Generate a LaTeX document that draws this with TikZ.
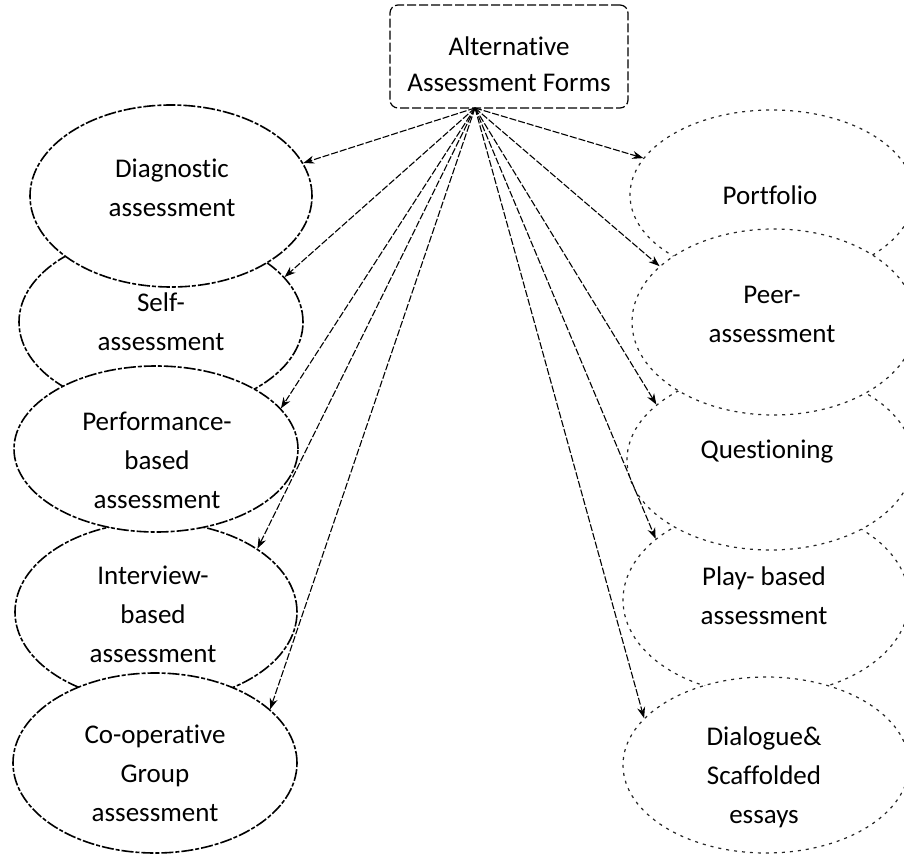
\documentclass[tikz,border=0pt]{standalone}
\usepackage{fontspec}
\setmainfont{Carlito}[Ligatures=NoCommon]
\usetikzlibrary{shapes.geometric,arrows.meta}
\begin{document}
\begin{tikzpicture}[x=1pt,y=-1pt,
  lbl/.style={align=center,font=\fontsize{27}{39}\selectfont,inner sep=0pt},
  lell/.style={ellipse,draw=black,fill=white,line width=1.6pt,dash pattern=on 12pt off 2pt on 4pt off 2pt,inner sep=0pt},
  rell/.style={ellipse,draw=black!85,fill=white,line width=1.2pt,dash pattern=on 3pt off 5pt,inner sep=0pt},
  conn/.style={line width=1.1pt,dash pattern=on 7pt off 2pt,-{Stealth[length=11pt,width=8pt]}},
  topbox/.style={draw,rounded corners=8pt,line width=1.2pt,dash pattern=on 9pt off 3pt,minimum width=238pt,minimum height=103pt,inner sep=0pt}]
\useasboundingbox (0,0) rectangle (904,858);

% top box
\node[topbox] (box) at (509,56.5) {};
\coordinate (hub) at (475,108);

% left column (stacking: even ones underneath)
\node[lell,minimum width=284pt,minimum height=178pt] (self) at (161,322) {};
\node[lell,minimum width=282pt,minimum height=180pt] (intv) at (156,612) {};
\node[lell,minimum width=282pt,minimum height=182pt] (diag) at (171,196) {};
\node[lell,minimum width=284pt,minimum height=166pt] (perf) at (156,449) {};
\node[lell,minimum width=284pt,minimum height=180pt] (coop) at (155,763) {};

% right column
\node[rell,minimum width=284pt,minimum height=170pt] (port) at (772,195) {};
\node[rell,minimum width=286pt,minimum height=190pt] (play) at (766,600) {};
\node[rell,minimum width=286pt,minimum height=180pt] (ques) at (770,460) {};
\node[rell,minimum width=284pt,minimum height=186pt] (peer) at (774,322) {};
\node[rell,minimum width=286pt,minimum height=176pt] (dial) at (766,765) {};

% texts
\node[lbl,font=\fontsize{27}{36}\selectfont] (boxt) at (509,64) {Alternative\\Assessment Forms};
\node[lbl] (diagt) at (172,188) {Diagnostic\\assessment};
\node[lbl] (selft) at (161,322) {Self-\\assessment};
\node[lbl] (perft) at (157,460) {Performance-\\based\\assessment};
\node[lbl] (intvt) at (153,614) {Interview-\\based\\assessment};
\node[lbl] (coopt) at (155,773) {Co-operative\\Group\\assessment};
\node[lbl] (portt) at (770,195) {Portfolio};
\node[lbl] (peert) at (772,314) {Peer-\\assessment};
\node[lbl] (quest) at (767,452) {Questioning};
\node[lbl] (playt) at (764,596) {Play- based\\assessment};
\node[lbl] (dialt) at (764,777) {Dialogue\&\\Scaffolded\\essays};

% connectors
\draw[conn] (hub) -- (diag.14);
\draw[conn] (hub) -- (self.20);
\draw[conn] (hub) -- (perf.18);
\draw[conn] (hub) -- (intv.32);
\draw[conn] (hub) -- (coop.25);
\draw[conn] (hub) -- (port.164);
\draw[conn] (hub) -- (peer.154);
\draw[conn] (hub) -- (ques.154);
\draw[conn] (hub) -- (play.151);
\draw[conn] (hub) -- (dial.159);
\end{tikzpicture}
\end{document}
